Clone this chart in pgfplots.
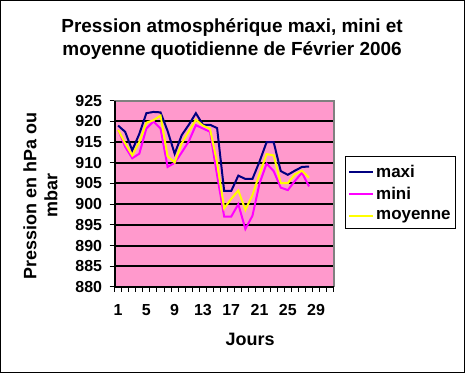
\documentclass[border=0pt]{standalone}
\usepackage{pgfplots}
\pgfplotsset{compat=1.18}
\usepackage{fontspec}
\setmainfont{Liberation Sans}
\definecolor{pinkbg}{HTML}{FF99CC}
\definecolor{navyc}{HTML}{000080}
\definecolor{magc}{HTML}{FF00FF}
\definecolor{yelc}{HTML}{FFFF00}
\begin{document}
\begin{tikzpicture}[x=1pt,y=1pt]
\draw[line width=1pt, fill=white] (0,0) rectangle (465,373);
\begin{axis}[
  at={(114.3pt,86pt)}, anchor=south west,
  scale only axis, width=219.7pt, height=186.5pt,
  xmin=0.5, xmax=31.5, ymin=880, ymax=925,
  axis background/.style={fill=pinkbg},
  axis line style={draw=gray, line width=1pt},
  xtick={1,5,...,29},
  minor xtick={0.5,1.5,...,31.5},
  ytick={880,885,...,925},
  major x tick style={draw=none},
  minor tick length=5pt, major tick length=5pt,
  tick align=outside, tick pos=left,
  tick style={black, line width=1pt},
  ymajorgrids, grid style={black, line width=2pt},
  /pgf/number format/assume math mode=true,
  /pgf/number format/1000 sep={},
  ticklabel style={font=\bfseries\fontsize{16}{18}\selectfont},
  xticklabel style={yshift=-9pt},
  yticklabel style={xshift=-4pt},
  every axis title shift=0pt,
  title={Pression atmosphérique maxi, mini et\\moyenne quotidienne de Février 2006},
  title style={at={(axis description cs:0.536,1.332)}, anchor=center, align=center,
    font=\bfseries\fontsize{19}{23}\selectfont},
  xlabel={Jours},
  xlabel style={at={(axis description cs:0.618,-0.284)}, anchor=center,
    font=\bfseries\fontsize{18}{21}\selectfont},
  ylabel={Pression en hPa ou\\mbar},
  ylabel style={at={(axis description cs:-0.338,0.49)}, anchor=center, rotate=0, align=center,
    font=\bfseries\fontsize{18}{21}\selectfont},
  legend style={at={(axis description cs:1.05,0.702)}, anchor=north west,
    draw=black, line width=1pt, fill=white,
    font=\bfseries\fontsize{17}{19}\selectfont,
    row sep=5pt, inner xsep=3pt, inner ysep=6pt},
  legend cell align=left,
  legend image code/.code={\draw[#1, line width=2pt] (0pt,0pt) -- (24pt,0pt);},
  clip=false,
  every axis plot/.append style={line width=2pt, no markers, sharp plot},
]
\addplot[navyc] coordinates {
(1,919) (2,917.5) (3,913) (4,917) (5,922) (6,922.3) (7,922.2) (8,917.7) (9,912.2) (10,916.7)
(11,919.2) (12,922) (13,919.2) (14,919.2) (15,918.4) (16,903.2) (17,903.2) (18,906.9) (19,906.1) (20,906.1)
(21,910.3) (22,915) (23,915) (24,908) (25,907.1) (26,908.1) (27,909) (28,909.1)};
\addlegendentry{maxi}
\addplot[magc] coordinates {
(1,918) (2,913.9) (3,911.1) (4,912.2) (5,918.3) (6,920) (7,918.3) (8,909) (9,910) (10,912.5)
(11,915.2) (12,919.1) (13,918.3) (14,917.5) (15,907) (16,897) (17,897) (18,900) (19,894) (20,897.2)
(21,905) (22,909.8) (23,908) (24,904) (25,903.4) (26,905.6) (27,907.6) (28,904.3)};
\addlegendentry{mini}
\addplot[yelc] coordinates {
(1,918) (2,914.7) (3,911.8) (4,915) (5,919.7) (6,920.3) (7,921.4) (8,911.6) (9,910.1) (10,914.7)
(11,917.6) (12,920.4) (13,919) (14,918.2) (15,910) (16,899) (17,901.3) (18,903.3) (19,898.6) (20,902.2)
(21,907.3) (22,912.1) (23,911.8) (24,905.1) (25,905.1) (26,907.2) (27,908.1) (28,906.4)};
\addlegendentry{moyenne}
\draw[gray, line width=2pt] (rel axis cs:0,1) -- (rel axis cs:1,1) -- (rel axis cs:1,0);
\draw[black, line width=2pt] (rel axis cs:0,1) -- (rel axis cs:0,0) -- (rel axis cs:1,0);
\end{axis}
\end{tikzpicture}
\end{document}
